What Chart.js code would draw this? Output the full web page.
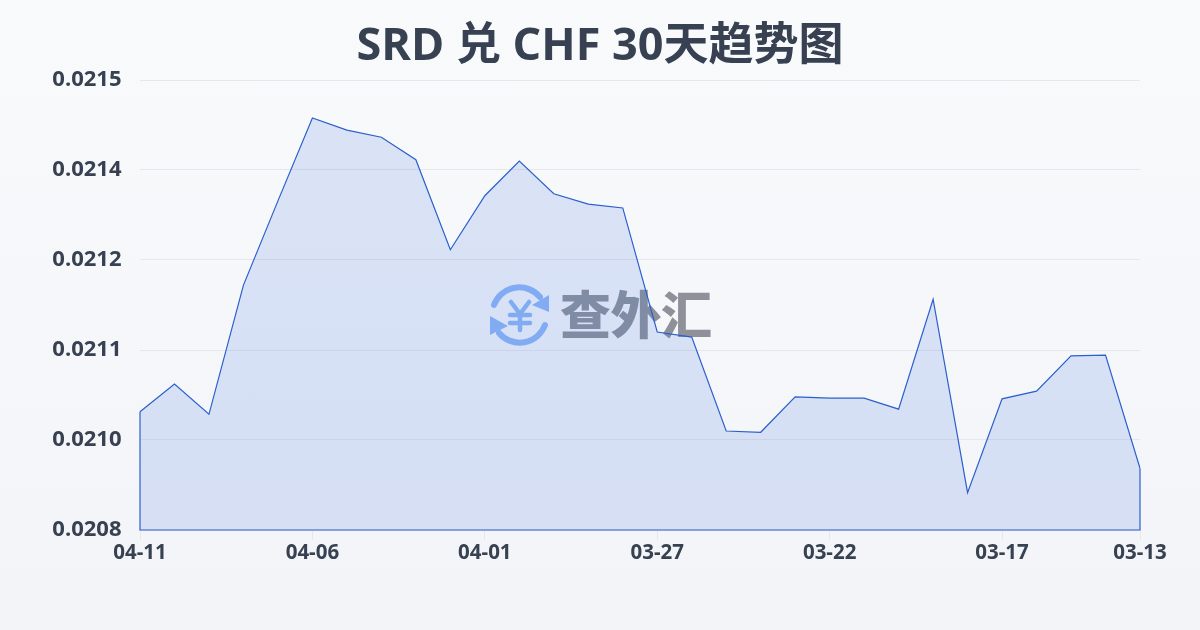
<!DOCTYPE html>
<html><head><meta charset="utf-8">
<style>
html,body{margin:0;padding:0;width:1200px;height:630px;overflow:hidden;background:linear-gradient(180deg,#f9fafc 0%,#f2f4f7 100%);}
#wm{position:absolute;left:0;top:0;width:1200px;height:630px;}
#c{position:absolute;left:0;top:0;}
</style></head><body>
<svg id="wm" viewBox="0 0 1200 630" xmlns="http://www.w3.org/2000/svg">
 <g fill="none" stroke="#8fb8f7" stroke-width="6" stroke-linecap="round">
  <path d="M494 305 A27 27 0 0 1 540 297"/>
  <path d="M545 325 A27 27 0 0 1 499 333"/>
  <g stroke-width="4.5"><path d="M511 302 L520 314 L529 302"/><path d="M520 314 L520 330"/><path d="M510 315 L530 315"/><path d="M510 323 L530 323"/></g>
 </g>
 <g fill="#8fb8f7"><path d="M549 295 L549 312 L532 305 Z"/><path d="M490 316 L490 335 L508 326 Z"/></g>
 <text x="560" y="334" font-family="'Noto Sans CJK SC'" font-weight="900" font-size="51" fill="#8e919a" textLength="152">查外汇</text>
</svg>
<canvas id="c" width="1200" height="630"></canvas>
<script src="https://cdn.jsdelivr.net/npm/chart.js@4"></script>
<script>
const titleText = 'SRD 兑 CHF 30天趋势图';
const categories = ['04-11','04-10','04-09','04-08','04-07','04-06','04-05','04-04','04-03','04-02','04-01','03-31','03-30','03-29','03-28','03-27','03-26','03-25','03-24','03-23','03-22','03-21','03-20','03-19','03-18','03-17','03-16','03-15','03-14','03-13'];
const rates = [0.021004,0.021047,0.021000,0.021201,0.021332,0.021461,0.021442,0.021431,0.021396,0.021256,0.021340,0.021394,0.021343,0.021327,0.021321,0.021128,0.021120,0.020974,0.020972,0.021027,0.021025,0.021025,0.021008,0.021179,0.020878,0.021024,0.021036,0.021091,0.021092,0.020916];
const xTickLabels = ['04-11','04-06','04-01','03-27','03-22','03-17','03-13'];
const yMin = 0.02082, yMax = 0.02152, yStep = 0.00014;
const lineColor = '#2b5fcc';

const closeOutline = {
  id:'closeOutline',
  afterDatasetsDraw(chart){
    const pts = chart.getDatasetMeta(0).data, base = chart.scales.y.bottom;
    const a = pts[0], b = pts[pts.length-1], g = chart.ctx;
    g.save(); g.strokeStyle = lineColor; g.lineWidth = 1.2; g.beginPath();
    g.moveTo(a.x,a.y); g.lineTo(a.x,base); g.lineTo(b.x,base); g.lineTo(b.x,b.y); g.stroke(); g.restore();
  }
};

new Chart(document.getElementById('c'),{
  type:'line',
  plugins:[closeOutline],
  data:{labels:categories,datasets:[{data:rates,borderColor:lineColor,borderWidth:1.2,backgroundColor:'rgba(59,110,224,0.155)',fill:'start',tension:0,pointRadius:0}]},
  options:{
    responsive:false,animation:false,
    layout:{padding:0},
    plugins:{legend:{display:false},tooltip:{enabled:false},
      title:{display:true,text:titleText,color:'#374151',font:{family:"'Open Sans','Noto Sans CJK SC'",size:45,weight:'700',lineHeight:1.2},padding:{top:20,bottom:6}}},
    scales:{
      x:{type:'category',offset:false,
        afterBuildTicks(s){s.ticks=s.ticks.filter(t=>xTickLabels.includes(categories[t.value]));},
        afterFit(s){s.height=100;},
        grid:{drawOnChartArea:false,drawTicks:true,tickLength:10,tickColor:'#e5e7eb'},border:{display:false},
        ticks:{autoSkip:false,maxRotation:0,padding:1,color:'#374151',font:{family:"'Open Sans'",size:20.5,weight:'700'}}},
      y:{min:yMin,max:yMax,
        afterBuildTicks(s){const t=[];for(let i=0;i<=5;i++)t.push({value:yMin+i*yStep});s.ticks=t;},
        afterFit(s){s.width=140;},
        grid:{color:'#e5e7eb',lineWidth:1,drawTicks:false},border:{display:false},
        ticks:{padding:18.5,color:'#374151',font:{family:"'Open Sans'",size:22,weight:'700'},callback:v=>Number(v).toFixed(4)}},
      yPad:{position:'right',display:true,afterFit(s){s.width=60;},grid:{display:false},border:{display:false},ticks:{display:false}}
    }
  }
});
</script></body></html>
